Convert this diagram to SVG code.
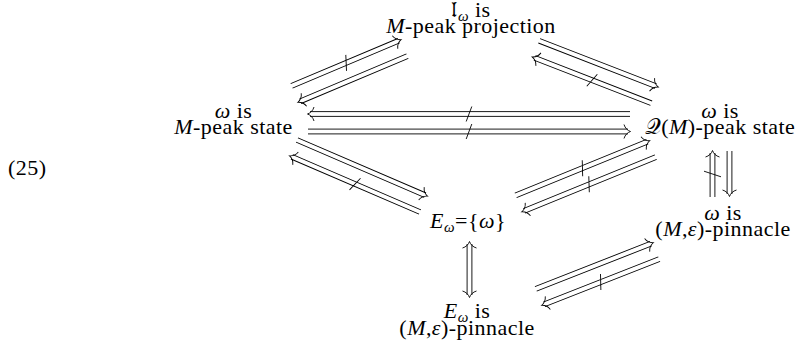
<svg xmlns="http://www.w3.org/2000/svg" width="801" height="350" viewBox="0 0 801 350">
<style>
text{font-family:'Liberation Serif','DejaVu Serif',serif;font-size:22px;letter-spacing:0.45px;fill:#000;text-anchor:middle}
.i{font-style:italic}
.s{font-size:15px}
.ar{fill:none;stroke:#000;stroke-width:0.9}
</style>
<defs>
<path id="hd" d="M-6,-7 C-5,-3.5 -2.5,-1 0.5,0 C-2.5,1 -5,3.5 -6,7"/>
</defs>
<text x="8" y="175" style="text-anchor:start">(25)</text>
<g id="n-top"><text x="471" y="17">𝔩<tspan class="s i" dy="4">ω</tspan><tspan dy="-4"> is</tspan></text><text x="471" y="33"><tspan class="i">M</tspan>-peak projection</text></g>
<g id="n-left"><text x="233.5" y="118"><tspan class="i">ω</tspan> is</text><text x="233.5" y="134"><tspan class="i">M</tspan>-peak state</text></g>
<g id="n-right"><text x="720" y="118"><tspan class="i">ω</tspan> is</text><text x="720" y="134">𝒬(<tspan class="i">M</tspan>)-peak state</text></g>
<g id="n-center"><text x="468" y="228"><tspan class="i">E</tspan><tspan class="s i" dy="4">ω</tspan><tspan dy="-4">={</tspan><tspan class="i">ω</tspan>}</text></g>
<g id="n-pin"><text x="723" y="220"><tspan class="i">ω</tspan> is</text><text x="723" y="236">(<tspan class="i">M</tspan>,<tspan class="i">ε</tspan>)-pinnacle</text></g>
<g id="n-bottom"><text x="467" y="318"><tspan class="i">E</tspan><tspan class="s i" dy="4">ω</tspan><tspan dy="-4"> is</tspan></text><text x="467" y="335">(<tspan class="i">M</tspan>,<tspan class="i">ε</tspan>)-pinnacle</text></g>
<g id="connectors" class="ar">
<g transform="translate(291.6,85.9) rotate(-22.88)"><path d="M0,-2.4H116.3M0,2.4H116.3M56.4,7.5L62,-7.5"/><use href="#hd" x="118.3"/></g>
<g transform="translate(407.4,56.1) rotate(157.12)"><path d="M0,-2.4H116.3M0,2.4H116.3"/><use href="#hd" x="118.3"/></g>
<g transform="translate(539.2,40.8) rotate(21.21)"><path d="M0,-2.4H125.1M0,2.4H125.1"/><use href="#hd" x="127.1"/></g>
<g transform="translate(651.3,103.2) rotate(201.21)"><path d="M0,-2.4H125.1M0,2.4H125.1M60.8,7.5L66.3,-7.5"/><use href="#hd" x="127.1"/></g>
<g transform="translate(630,114) rotate(180)"><path d="M0,-2.4H320M0,2.4H320M158.2,7.5L163.8,-7.5"/><use href="#hd" x="322"/></g>
<g transform="translate(308,131.5)"><path d="M0,-2.4H320M0,2.4H320M158.2,7.5L163.8,-7.5"/><use href="#hd" x="322"/></g>
<g transform="translate(297,140) rotate(23.3)"><path d="M0,-2.4H139.5M0,2.4H139.5"/><use href="#hd" x="141.5"/></g>
<g transform="translate(420,212) rotate(203.3)"><path d="M0,-2.4H139.5M0,2.4H139.5M68,7.5L73.5,-7.5"/><use href="#hd" x="141.5"/></g>
<g transform="translate(515.7,195.4) rotate(-22.2)"><path d="M0,-2.4H142.2M0,2.4H142.2M69.3,7.5L74.9,-7.5"/><use href="#hd" x="144.2"/></g>
<g transform="translate(655.8,157.1) rotate(157.8)"><path d="M0,-2.4H142.2M0,2.4H142.2M69.3,7.5L74.9,-7.5"/><use href="#hd" x="144.2"/></g>
<g transform="translate(712.5,197) rotate(-90)"><path d="M0,-2.4H44M0,2.4H44M20.2,8.5L25.8,-8.5"/><use href="#hd" x="46"/></g>
<g transform="translate(729.5,151) rotate(90)"><path d="M0,-2.4H43M0,2.4H43"/><use href="#hd" x="45"/></g>
<g transform="translate(535.8,288.9) rotate(-21.46)"><path d="M0,-2.4H123.7M0,2.4H123.7"/><use href="#hd" x="125.7"/></g>
<g transform="translate(659.2,259.1) rotate(158.54)"><path d="M0,-2.4H123.7M0,2.4H123.7M60.1,7.5L65.6,-7.5"/><use href="#hd" x="125.7"/></g>
<g transform="translate(469.5,242) rotate(90)"><path d="M2,-2.4H53M2,2.4H53"/><use href="#hd" x="55"/><use href="#hd" transform="rotate(180)"/></g>
</g>
</svg>
